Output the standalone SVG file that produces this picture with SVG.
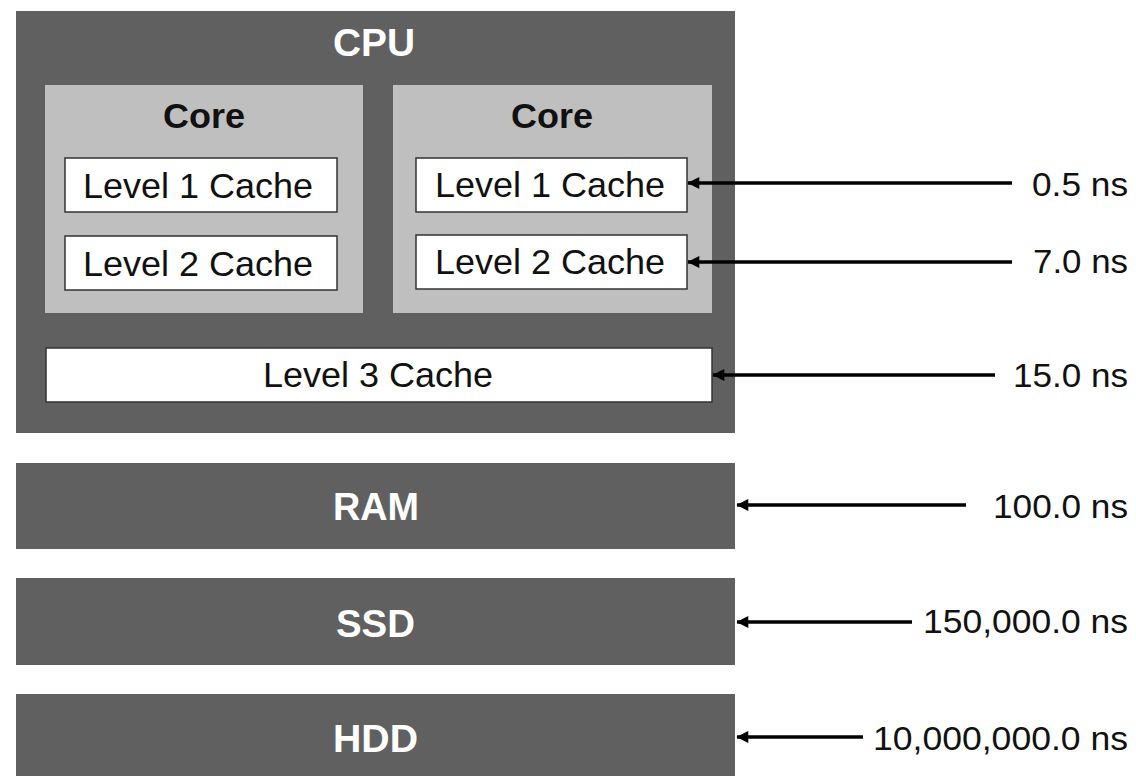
<svg xmlns="http://www.w3.org/2000/svg" width="1136" height="776" viewBox="0 0 1136 776">
<defs>
<style>
.dark{fill:#606060}
.core{fill:#bfbfbf}
.cache{fill:#ffffff;stroke:#333333;stroke-width:1.5}
.t{font-family:"Liberation Sans",Arial,sans-serif;font-size:35px;fill:#111111}
.tl{font-family:"Liberation Sans",Arial,sans-serif;font-size:34px;fill:#111111}
.tb{font-family:"Liberation Sans",Arial,sans-serif;font-size:35px;font-weight:bold;fill:#111111}
.tw{font-family:"Liberation Sans",Arial,sans-serif;font-size:38px;font-weight:bold;fill:#ffffff}
.ar{stroke:#000000;stroke-width:3.5;fill:none;marker-end:url(#ah)}
</style>
<marker id="ah" viewBox="0 0 10 10" refX="9.5" refY="5" markerWidth="4" markerHeight="3.4" markerUnits="strokeWidth" orient="auto">
<path d="M0,0 L10,5 L0,10 Z" fill="#000000"/>
</marker>
</defs>
<rect width="1136" height="776" fill="#ffffff"/>
<g id="cpu">
<rect class="dark" x="16" y="11" width="719" height="422"/>
<text class="tw" x="333" y="56" textLength="82" lengthAdjust="spacingAndGlyphs">CPU</text>
</g>
<g id="core1">
<rect class="core" x="45" y="85" width="318" height="228"/>
<text class="tb" x="163" y="128" textLength="82" lengthAdjust="spacingAndGlyphs">Core</text>
</g>
<g id="core2">
<rect class="core" x="393" y="85" width="319" height="228"/>
<text class="tb" x="511" y="128" textLength="82" lengthAdjust="spacingAndGlyphs">Core</text>
</g>
<g id="l1a">
<rect class="cache" x="65" y="158" width="272" height="54"/>
<text class="t" x="83" y="198" textLength="230" lengthAdjust="spacingAndGlyphs">Level 1 Cache</text>
</g>
<g id="l2a">
<rect class="cache" x="65" y="236" width="272" height="54"/>
<text class="t" x="83" y="276" textLength="230" lengthAdjust="spacingAndGlyphs">Level 2 Cache</text>
</g>
<g id="l1b">
<rect class="cache" x="416" y="158" width="271" height="54"/>
<text class="t" x="435" y="197" textLength="230" lengthAdjust="spacingAndGlyphs">Level 1 Cache</text>
</g>
<g id="l2b">
<rect class="cache" x="416" y="235" width="271" height="54"/>
<text class="t" x="435" y="274" textLength="230" lengthAdjust="spacingAndGlyphs">Level 2 Cache</text>
</g>
<g id="l3">
<rect class="cache" x="46" y="348" width="666" height="54"/>
<text class="t" x="263" y="387" textLength="230" lengthAdjust="spacingAndGlyphs">Level 3 Cache</text>
</g>
<g id="ram">
<rect class="dark" x="16" y="463" width="719" height="86"/>
<text class="tw" x="333" y="520" textLength="86" lengthAdjust="spacingAndGlyphs">RAM</text>
</g>
<g id="ssd">
<rect class="dark" x="16" y="578" width="719" height="87"/>
<text class="tw" x="336" y="637" textLength="79" lengthAdjust="spacingAndGlyphs">SSD</text>
</g>
<g id="hdd">
<rect class="dark" x="16" y="694" width="719" height="82"/>
<text class="tw" x="333" y="752" textLength="85" lengthAdjust="spacingAndGlyphs">HDD</text>
</g>
<g id="connectors">
<line class="ar" x1="1012" y1="183" x2="688" y2="183"/>
<line class="ar" x1="1012" y1="262" x2="688" y2="262"/>
<line class="ar" x1="995" y1="375" x2="713" y2="375"/>
<line class="ar" x1="966" y1="505" x2="737" y2="505"/>
<line class="ar" x1="912" y1="622" x2="737" y2="622"/>
<line class="ar" x1="863" y1="737" x2="737" y2="737"/>
</g>
<g id="labels">
<text class="tl" x="1032" y="196" textLength="96" lengthAdjust="spacingAndGlyphs">0.5 ns</text>
<text class="tl" x="1033" y="273" textLength="95" lengthAdjust="spacingAndGlyphs">7.0 ns</text>
<text class="tl" x="1013" y="387" textLength="115" lengthAdjust="spacingAndGlyphs">15.0 ns</text>
<text class="tl" x="993" y="518" textLength="135" lengthAdjust="spacingAndGlyphs">100.0 ns</text>
<text class="tl" x="923" y="633" textLength="205" lengthAdjust="spacingAndGlyphs">150,000.0 ns</text>
<text class="tl" x="873" y="750" textLength="255" lengthAdjust="spacingAndGlyphs">10,000,000.0 ns</text>
</g>
</svg>
